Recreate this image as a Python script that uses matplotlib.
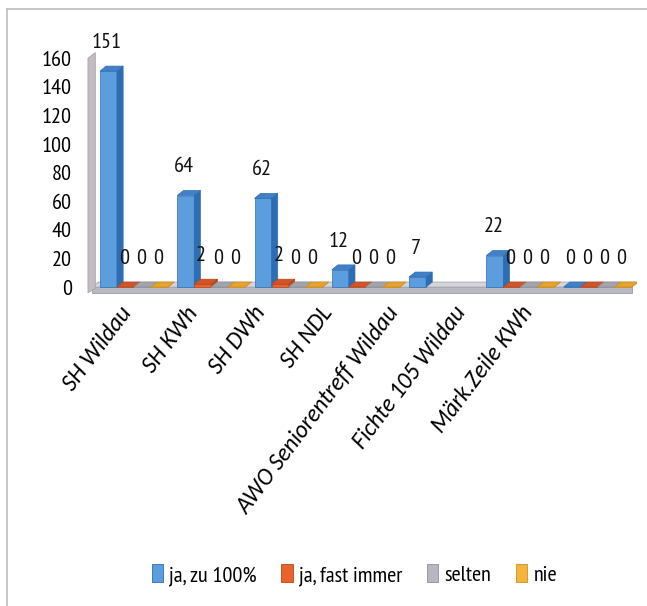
import numpy as np
import matplotlib.pyplot as plt
from matplotlib.patches import Polygon, Patch
from matplotlib.lines import Line2D

# categories and answers
orte = ["SH Wildau", "SH KWh", "SH DWh", "SH NDL",
        "AWO Seniorentreff Wildau", "Fichte 105 Wildau", "Märk.Zeile KWh"]
serien = ["ja, zu 100%", "ja, fast immer", "selten", "nie"]

ja_100 = [151, 64, 62, 12, 7, 22, 0]
ja_fast = [0, 2, 2, 0, np.nan, 0, 0]
selten = [0, 0, 0, 0, np.nan, 0, 0]
nie = [0, 0, 0, 0, np.nan, 0, 0]
werte = [ja_100, ja_fast, selten, nie]

y_ticks = [0, 20, 40, 60, 80, 100, 120, 140, 160]

# colours: front, side, top
farben = [
    ("#5b9ddd", "#2f6db3", "#3f80c8"),
    ("#e8632e", "#b8461c", "#d0552a"),
    ("#b7b7bf", "#8f8f98", "#a3a3ab"),
    ("#f6b43c", "#cf8f1c", "#e5a22e"),
]

zahl_font = ["PT Sans Narrow", "DejaVu Sans"]
achse_font = ["Carlito", "DejaVu Sans"]
plt.rcParams["font.family"] = zahl_font

fig = plt.figure(figsize=(6.47, 6.06), dpi=100)
ax = fig.add_axes([0.1306, 0.5145, 0.854, 0.4366])

pitch = 0.22   # space per series inside a group
breite = 0.22  # front face width
dx, dy = 0.08, 3.5  # fake 3d depth
x_links, x_rechts = -0.2, 6.95

# floor slab
fx0, fx1 = -0.1, 6.88
ax.add_patch(Polygon([(fx0, -4), (fx1, -4), (fx1, 0), (fx0, 0)],
                     closed=True, fc="#b9b9c2", ec="#9a9aa6", lw=0.6, zorder=1))
ax.add_patch(Polygon([(fx0, 0), (fx1, 0), (fx1 + dx, dy), (fx0 + dx, dy)],
                     closed=True, fc="#d4d4da", ec="#a8a8b2", lw=0.6, zorder=1))
# left wall
ax.add_patch(Polygon([(-0.155, -4), (-0.06, -1), (-0.06, 164), (-0.155, 160)],
                     closed=True, fc="#c3bcc2", ec="#a9a2aa", lw=0.6, zorder=1))

for i in range(len(orte)):
    for k, reihe in enumerate(werte):
        v = reihe[i]
        if np.isnan(v):
            continue
        front, seite, oben = farben[k]
        x0 = i + k * pitch
        ax.bar(x0, v, width=breite, bottom=0, align="edge", color=front,
               edgecolor=seite, linewidth=0.5, zorder=3)
        ax.add_patch(Polygon([(x0 + breite, 0), (x0 + breite + dx, dy),
                              (x0 + breite + dx, v + dy), (x0 + breite, v)],
                             closed=True, fc=seite, ec=seite, lw=0.5, zorder=3))
        ax.add_patch(Polygon([(x0, v), (x0 + dx, v + dy),
                              (x0 + breite + dx, v + dy), (x0 + breite, v)],
                             closed=True, fc=oben, ec=seite, lw=0.5, zorder=3))
        ax.text(x0 + breite / 2 - 0.02, v + 20, f"{v:g}", ha="center", va="center",
                fontsize=16, color="#111111", zorder=5)

ax.set_xlim(x_links, x_rechts)
ax.set_ylim(-5, 180)
ax.set_yticks(y_ticks)
ax.set_yticklabels([str(t) for t in y_ticks], fontsize=16)
ax.tick_params(axis="y", length=0, pad=9)

# category labels sit on a slightly tighter pitch than the bar groups
label_x = 0.24 + np.arange(len(orte)) * 0.867
ax.set_xticks(label_x)
ax.set_xticklabels(orte, rotation=53, ha="right", va="top", family=achse_font,
                   rotation_mode="anchor", fontsize=17, style="italic")
ax.tick_params(axis="x", length=0, pad=6)

for s in ax.spines.values():
    s.set_visible(False)
ax.patch.set_alpha(0)

handles = [Patch(facecolor=f[0], edgecolor=f[1], linewidth=0.6) for f in farben]
fig.legend(handles, serien, loc="center", bbox_to_anchor=(0.548, 0.051), ncol=4,
           frameon=False, fontsize=16, handlelength=0.5, handleheight=0.85,
           handletextpad=0.3, columnspacing=1.1)

# outer frame lines (top and left)
fig.add_artist(Line2D([7 / 647, 1], [1 - 9 / 606, 1 - 9 / 606],
                      transform=fig.transFigure, color="#bdbdbd", lw=1.2))
fig.add_artist(Line2D([7 / 647, 7 / 647], [0, 1 - 9 / 606],
                      transform=fig.transFigure, color="#bdbdbd", lw=1.2))

fig.savefig("out.png", dpi=100)
